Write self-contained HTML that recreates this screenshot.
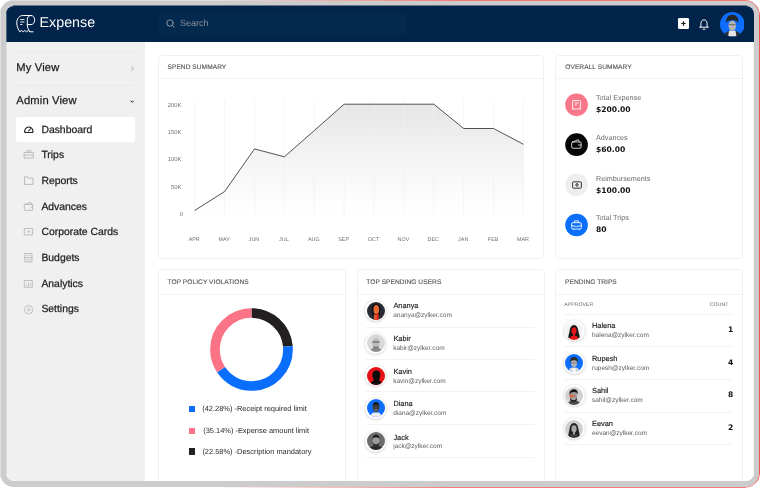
<!DOCTYPE html>
<html lang="en">
<head>
<meta charset="utf-8">
<title>Expense Dashboard</title>
<style>
*{box-sizing:border-box;margin:0;padding:0}
html,body{width:760px;height:489px;background:#fff;overflow:hidden}
body{position:relative;font-family:"Liberation Sans",sans-serif;color:#222;text-rendering:geometricPrecision}
.t{position:absolute;white-space:nowrap;line-height:1}
svg{display:block}
#redline{z-index:5;position:absolute;left:1px;top:0;width:759px;height:488px;border:1px solid #f0524f;border-top-color:#f47b78;border-bottom-color:#f47b78;border-radius:15px;
 -webkit-mask-image:linear-gradient(to right,transparent 28%,#000 60%);mask-image:linear-gradient(to right,transparent 28%,#000 60%)}
#frame{position:absolute;left:0;top:0;width:759px;height:487px;border-radius:14px;background:#cccccc;overflow:hidden}
#win{position:absolute;left:6px;top:6px;width:748px;height:475px;border-radius:8px;background:#fff;overflow:hidden}
#pg{position:absolute;left:-6px;top:-6px;width:760px;height:489px}
#hdr{position:absolute;left:0;top:0;width:760px;height:42px;background:#02234a}
#side{position:absolute;left:0;top:42px;width:145px;height:447px;background:#f0f0f0}
.card{position:absolute;background:#fff;border:1px solid #f1f1f1;border-radius:4px}
.card .hd{position:absolute;left:0;top:0;right:0;height:23px;border-bottom:1px solid #f2f2f2}
.brand{font-size:14.3px;color:#fff}
.srch{font-size:9px;color:#8a8f9b}
.ttl{font-size:6.6px;color:#555;letter-spacing:0.05px;-webkit-text-stroke:0.12px #555}
.nav{font-size:10.4px;color:#1f1f1f;-webkit-text-stroke:0.25px #1f1f1f}
.sec{font-size:11.2px;color:#1f1f1f;-webkit-text-stroke:0.25px #1f1f1f;letter-spacing:0.15px}
.lbl{font-size:7.2px;color:#6b6b6b}
.val{font-family:"DejaVu Sans","Liberation Sans",sans-serif;font-size:7.6px;color:#111;font-weight:bold}
.nm{font-size:7.4px;color:#1d1d1d;-webkit-text-stroke:0.15px #1d1d1d}
.em{font-size:6.5px;color:#5c5c5c}
.lg{font-size:7.45px;color:#2b2b2b}
.th{font-size:5.2px;color:#6a6a6a}
.cnt{font-family:"DejaVu Sans","Liberation Sans",sans-serif;font-size:7.6px;color:#111;font-weight:bold}
.dv{position:absolute;height:1px;background:#f3f3f3}
.av{position:absolute;width:21px;height:21px;border-radius:50%;background:#fff;box-shadow:0 0.5px 3px rgba(0,0,0,.22)}
.av svg{position:absolute;left:1.5px;top:1.5px;width:18px;height:18px;border-radius:50%;overflow:hidden}
.ic{position:absolute;width:23px;height:23px;border-radius:50%}
.ab{position:absolute}
</style>
</head>
<body>
<div id="redline"></div>
<div id="frame">
<div class="ab" style="left:0;top:0;width:759px;height:1px;background:#e1e1e1"></div>
<div class="ab" style="left:0;top:0;width:1px;height:487px;background:#e0e0e0"></div>
<div class="ab" style="left:13px;top:5px;width:734px;height:1px;background:#67778b"></div>
<div id="win">
<div id="pg">
<!-- HEADER -->
<div id="hdr"></div>
<svg class="t" style="left:10px;top:10px" width="34" height="30" viewBox="10 10 34 30" fill="none" stroke="#fff" stroke-width="1" stroke-linecap="round" stroke-linejoin="round">
  <path d="M31 15.500H23.200C19.200 15.500 16.800 18.600 16.800 23c0 3.800 1.600 6.400 3 8.800l1.700-1.300 1.700 1.300 1.700-1.300 1.700 1.300 1.700-1.300 1.700 1.300H33.200"/>
  <path d="M27.300 24.600H31c2.100 0 3.700-2 3.700-4.500 0-2.600-1.600-4.600-3.700-4.600s-3.700 1.800-3.700 4.200V25c0 2.800 1.200 4.900 2.700 6.800"/>
  <path d="M20.200 19.600h4.300M20.200 22h4.300M20.200 24.500h2.200" stroke-width="0.900" stroke-linecap="butt"/>
</svg>
<div class="t brand" style="left:39.5px;top:16px">Expense</div>
<div class="ab" style="left:159px;top:13px;width:247px;height:22px;border-radius:3px;background:#04294f"></div>
<svg class="t" style="left:165.500px;top:19.300px" width="9" height="9" viewBox="0 0 9 9" fill="none" stroke="#9a9ea8" stroke-width="0.900" stroke-linecap="round"><circle cx="4" cy="4" r="3.200"/><path d="M6.400 6.500L8.200 8.300"/></svg>
<div class="t srch" style="left:180px;top:19px">Search</div>
<div class="ab" style="left:677.800px;top:18.200px;width:11px;height:11px;border-radius:1.200px;background:#fff"></div>
<svg class="t" style="left:680.800px;top:21.200px" width="5" height="5" viewBox="0 0 5 5" stroke="#111" stroke-width="1.200"><path d="M2.500 0.300v4.400M0.300 2.500h4.400"/></svg>
<svg class="t" style="left:699px;top:19px" width="10" height="11" viewBox="0 0 10 11" fill="none" stroke="#fff" stroke-width="0.950" stroke-linecap="round" stroke-linejoin="round"><path d="M0.600 8.200h8.800M1.900 8.200V4.300c0-2 1.400-3.500 3.100-3.500s3.100 1.500 3.100 3.500v3.900M4 10.200h2"/></svg>
<svg class="t" style="left:719.700px;top:12px" width="24.600" height="24.600" viewBox="0 0 24 24">
  <defs><clipPath id="cpA"><circle cx="12" cy="12" r="12"/></clipPath></defs>
  <g clip-path="url(#cpA)">
    <rect width="24" height="24" fill="#0d6efd"/>
    <path d="M3.500 24c0.500-3.500 3-5 5.500-5.500h6c2.500 0.500 5 2 5.500 5.500z" fill="#2e2e2e"/>
    <path d="M8 24l0.800-5.800h6.400L16 24z" fill="#e4e4e4"/>
    <ellipse cx="12" cy="13.200" rx="3.700" ry="5" fill="#b4b4b4"/>
    <path d="M6.300 10.800C5.300 6 8 2.600 12 2.600s6.700 3.400 5.700 8.200c-0.600-1.500-1.200-2-2.200-2.300-2.500-0.500-4.500-0.500-7 0-1 0.300-1.600 0.800-2.200 2.300z" fill="#262626"/>
    <path d="M8.600 12.400h6.800" stroke="#4a4a4a" stroke-width="0.700"/>
  </g>
</svg>
<!-- SIDEBAR -->
<div id="side"></div>
<div class="ab" style="left:6px;top:42px;width:1px;height:447px;background:#dfdfdf"></div>
<div class="ab" style="left:6px;top:13px;width:1px;height:29px;background:#53677e"></div>
<div class="ab" style="left:753px;top:42px;width:1px;height:447px;background:#f4f4f4"></div>
<div class="dv" style="left:16px;top:52px;width:119px;background:#e9e9e9"></div>
<div class="t sec" style="left:16.3px;top:63px">My View</div>
<svg class="t" style="left:130.700px;top:65.900px" width="3" height="5.200" viewBox="0 0 3 5.200" fill="none" stroke="#8a8a8a" stroke-width="0.700"><path d="M0.400 0.400l1.800 2.200-1.800 2.200"/></svg>
<div class="dv" style="left:16px;top:85px;width:119px;background:#e9e9e9"></div>
<div class="t sec" style="left:16.3px;top:96px">Admin View</div>
<svg class="t" style="left:129.800px;top:100.300px" width="4.600" height="3.200" viewBox="0 0 4.600 3.200" fill="none" stroke="#222" stroke-width="1"><path d="M0.600 0.600l1.700 1.700 1.700-1.700"/></svg>
<div class="ab" style="left:16px;top:117px;width:119px;height:24.500px;border-radius:2px;background:#fff"></div>
<div class="t nav" style="left:41.4px;top:126px">Dashboard</div>
<div class="t nav" style="left:41.4px;top:151px">Trips</div>
<div class="t nav" style="left:41.4px;top:177px">Reports</div>
<div class="t nav" style="left:41.4px;top:203px">Advances</div>
<div class="t nav" style="left:41.4px;top:228px">Corporate Cards</div>
<div class="t nav" style="left:41.4px;top:254px">Budgets</div>
<div class="t nav" style="left:41.4px;top:280px">Analytics</div>
<div class="t nav" style="left:41.4px;top:305px">Settings</div>
<svg class="t" style="left:6px;top:6px" width="140" height="330" viewBox="6 6 140 330" fill="none" stroke="#b7b7b7" stroke-width="0.900" stroke-linejoin="round" stroke-linecap="round">
  <g stroke="#1f1f1f" stroke-width="1.100"><path d="M24.950 132.500A4.100 4.100 0 1 1 32.650 132.500z"/><path d="M28.600 131l1.900-2.100"/></g>
  <path d="M24.500 152.400h8.800v5.700h-8.800zM27.200 152.400v-1.800h3.400v1.800M24.500 155.100h8.800"/>
  <path d="M24.500 184v-7.200h3.200l0.700 1.400h4.600V184z"/>
  <path d="M24.700 204.400h7.900v5.900h-7.900zM24.900 204.400l6-2 0.600 2M30.800 207.200h1.800"/>
  <path d="M24.700 228.500h7.900v6.400h-7.900z"/><path d="M27.700 231.700h2M28.700 230.700v2" stroke-width="0.700"/>
  <path d="M25.200 253.500h6.800v8.400h-6.800zM25.200 257.700h6.800"/><path d="M26.800 255.600h3.600M26.800 259.800h3.600" stroke-width="0.700"/>
  <path d="M24.700 280.500h7.600v6.700h-7.600z"/><path d="M26.700 285.800v-1.800M28.500 285.800v-3.300M30.300 285.800v-2.400" stroke-width="0.700"/>
  <path d="M28.600 305.300l1.200 0.900 1.500-0.100 0.400 1.400 1.200 0.900-0.500 1.300 0.500 1.300-1.200 0.900-0.400 1.400-1.500-0.100-1.200 0.900-1.200-0.900-1.500 0.100-0.400-1.400-1.200-0.900 0.500-1.300-0.500-1.300 1.200-0.900 0.400-1.400 1.500 0.100z" stroke-width="0.800"/><circle cx="28.600" cy="309.600" r="1.400" stroke-width="0.800"/>
</svg>
<!-- SPEND SUMMARY -->
<div class="card" style="left:158px;top:55px;width:386px;height:204px"><div class="hd"></div></div>
<div class="t ttl" style="left:167.5px;top:65px">SPEND SUMMARY</div>
<svg class="t" style="left:158px;top:55px" width="386" height="204" viewBox="158 55 386 204">
  <defs><linearGradient id="gf" x1="0" y1="104" x2="0" y2="216" gradientUnits="userSpaceOnUse"><stop offset="0" stop-color="#e6e6e6"/><stop offset="0.500" stop-color="#f4f4f4"/><stop offset="0.900" stop-color="#fefefe"/><stop offset="1" stop-color="#ffffff"/></linearGradient></defs>
  <path d="M194.7 210.5 224.6 191.5 254.5 148.9 284.4 156.8 314.3 130.5 344.1 104.2 374.0 104.2 403.9 104.2 433.8 104.2 463.7 128.5 493.6 128.5 523.5 144.3V216H194.7z" fill="url(#gf)"/>
  <path d="M194.7 99.800V217.600M224.6 99.800V217.600M254.5 99.800V217.600M284.4 99.800V217.600M314.3 99.800V217.600M344.1 99.800V217.600M374.0 99.800V217.600M403.9 99.800V217.600M433.8 99.800V217.600M463.7 99.800V217.600M493.6 99.800V217.600M523.5 99.800V217.600" stroke="#f0f0f0" stroke-width="0.700" fill="none"/>
  <polyline points="194.7 210.5 224.6 191.5 254.5 148.9 284.4 156.8 314.3 130.5 344.1 104.2 374.0 104.2 403.9 104.2 433.8 104.2 463.7 128.5 493.6 128.5 523.5 144.3" fill="none" stroke="#343434" stroke-width="0.850" stroke-linejoin="round"/>
  <g font-family="Liberation Sans, sans-serif" font-size="5.900" fill="#6f6f6f" text-anchor="end">
    <text x="181.500" y="106.800">200K</text><text x="181.500" y="134">150K</text><text x="181.500" y="161.100">100K</text><text x="181.500" y="188.600">50K</text><text x="183" y="215.700">0</text>
  </g>
  <g font-family="Liberation Sans, sans-serif" font-size="5.400" fill="#6f6f6f" text-anchor="middle">
    <text x="194.2" y="241.200">APR</text><text x="224.1" y="241.200">MAY</text><text x="254.0" y="241.200">JUN</text><text x="283.9" y="241.200">JUL</text><text x="313.8" y="241.200">AUG</text><text x="343.6" y="241.200">SEP</text><text x="373.5" y="241.200">OCT</text><text x="403.4" y="241.200">NOV</text><text x="433.3" y="241.200">DEC</text><text x="463.2" y="241.200">JAN</text><text x="493.1" y="241.200">FEB</text><text x="523.0" y="241.200">MAR</text>
  </g>
</svg>
<!-- OVERALL SUMMARY -->
<div class="card" style="left:555px;top:55px;width:188px;height:204px"><div class="hd"></div></div>
<div class="t ttl" style="left:565.3px;top:65px">OVERALL SUMMARY</div>
<svg class="t" style="left:560px;top:90px" width="32" height="30" viewBox="560 90 32 30"><circle cx="576.550" cy="104.8" r="11.350" fill="#f9778a"/></svg>
<svg class="t" style="left:572.1px;top:100.2px" width="9" height="10" viewBox="0 0 9 10" fill="none" stroke="#fff" stroke-width="0.900" stroke-linejoin="round" stroke-linecap="round"><path d="M1.300 0.600h6.400c0.400 0 0.700 0.300 0.700 0.700v8.100l-1.300-0.800-1.300 0.800-1.300-0.800-1.300 0.800-1.300-0.800-1.300 0.800V1.300c0-0.400 0.300-0.700 0.700-0.700z"/><path d="M3.400 3h2.400M3.400 4.800h1"/></svg>
<div class="t lbl" style="left:596px;top:94px">Total Expense</div>
<div class="t val" style="left:596px;top:106px">$200.00</div>
<svg class="t" style="left:560px;top:130px" width="32" height="30" viewBox="560 130 32 30"><circle cx="576.550" cy="144.7" r="11.350" fill="#050505"/></svg>
<svg class="t" style="left:571.2px;top:139.3px" width="11" height="9.900" viewBox="0 0 10 9" fill="none" stroke="#e8e8e8" stroke-width="0.800" stroke-linejoin="round" stroke-linecap="round"><rect x="0.600" y="2.700" width="8.600" height="5.700" rx="1"/><path d="M1.600 2.700l5-2.100 0.900 2.100M6.800 5.500h2.400"/></svg>
<div class="t lbl" style="left:596px;top:134px">Advances</div>
<div class="t val" style="left:596px;top:146px">$60.00</div>
<svg class="t" style="left:560px;top:170px" width="32" height="30" viewBox="560 170 32 30"><circle cx="576.550" cy="184.8" r="11.350" fill="#eeeeee"/></svg>
<svg class="t" style="left:571.6px;top:181.2px" width="10" height="8" viewBox="0 0 10 8" fill="none" stroke="#222" stroke-width="0.900" stroke-linejoin="round"><rect x="0.600" y="0.800" width="8.800" height="6.400" rx="1"/><circle cx="5" cy="4" r="1.200"/><path d="M5 2.800V2.200"/></svg>
<div class="t lbl" style="left:596px;top:175px">Reimbursements</div>
<div class="t val" style="left:596px;top:187px">$100.00</div>
<svg class="t" style="left:560px;top:211px" width="32" height="30" viewBox="560 211 32 30"><circle cx="576.550" cy="225.0" r="11.350" fill="#0b6ffb"/></svg>
<svg class="t" style="left:571.2px;top:219.9px" width="11" height="10.500" viewBox="0 0 10 9.500" fill="none" stroke="#fff" stroke-width="0.800" stroke-linejoin="round"><rect x="0.600" y="2.400" width="8.800" height="5.800" rx="1.200"/><path d="M3.200 2.400V0.800h3.600v1.600M0.600 4.800c1.500 1.300 7.300 1.300 8.800 0M2.500 8.200v0.800M7.500 8.200v0.800"/></svg>
<div class="t lbl" style="left:596px;top:214px">Total Trips</div>
<div class="t val" style="left:596px;top:226px">80</div>
<!-- TOP POLICY VIOLATIONS -->
<div class="card" style="left:158px;top:269px;width:188px;height:230px"><div class="hd" style="height:25px"></div></div>
<div class="t ttl" style="left:167.5px;top:280px">TOP POLICY VIOLATIONS</div>
<svg class="t" style="left:204.900px;top:302.550px" width="93" height="93" viewBox="-46.500 -46.500 93 93">
  <g fill="none" stroke-width="9.700" transform="rotate(-90)">
    <circle r="36.500" stroke="#231f20" pathLength="100" stroke-dasharray="23.600 76.400" stroke-dashoffset="0"/>
    <circle r="36.500" stroke="#0a6efd" pathLength="100" stroke-dasharray="42.100 57.900" stroke-dashoffset="-23.600"/>
    <circle r="36.500" stroke="#fb7386" pathLength="100" stroke-dasharray="34.300 65.700" stroke-dashoffset="-65.700"/>
  </g>
</svg>
<div class="ab" style="left:189px;top:405.7px;width:6.300px;height:6.300px;background:#0a6efd"></div>
<div class="t lg" style="left:202.2px;top:405px">(42.28%) -Receipt required limit</div>
<div class="ab" style="left:189px;top:427.5px;width:6.300px;height:6.300px;background:#fb7386"></div>
<div class="t lg" style="left:203.2px;top:427px">(35.14%) -Expense amount limit</div>
<div class="ab" style="left:189px;top:448.3px;width:6.300px;height:6.300px;background:#231f20"></div>
<div class="t lg" style="left:202.4px;top:448px">(22.58%) -Description mandatory</div>
<!-- TOP SPENDING USERS -->
<div class="card" style="left:357px;top:269px;width:188px;height:230px"><div class="hd" style="height:25px"></div></div>
<div class="t ttl" style="left:366.3px;top:280px">TOP SPENDING USERS</div>
<div class="av" style="left:365.3px;top:300.0px"><svg viewBox="0 0 18 18"><rect width="18" height="18" fill="#2a2c35"/><path d="M4.500 9c-0.500-4.500 1.500-7.500 4.700-7.500 3.300 0 5 3 4.300 7.500l-1 5h-7z" fill="#14151a"/><path d="M7 18v-5.500h4.600V18z" fill="#e5522a"/><ellipse cx="9.300" cy="7.600" rx="2.800" ry="4.600" fill="#ec6a32"/><path d="M9.800 11.500l1.800 1v4l-1.800 1.500z" fill="#e3241c"/></svg></div>
<div class="t nm" style="left:393.4px;top:302px">Ananya</div>
<div class="t em" style="left:393.2px;top:313px">ananya@zylker.com</div>
<div class="dv" style="left:366px;top:327px;width:168.500px"></div>
<div class="av" style="left:365.3px;top:332.8px"><svg viewBox="0 0 18 18"><rect width="18" height="18" fill="#d9d9d9"/><path d="M3 18c0.300-2.500 2-4 4-4.300h4c2 0.300 3.700 1.800 4 4.300z" fill="#8c8c8c"/><ellipse cx="9" cy="8.300" rx="3.600" ry="4.600" fill="#bcbcbc"/><path d="M5.500 8h7" stroke="#444" stroke-width="0.900"/><path d="M6.200 11.500c1 1.800 4.600 1.800 5.600 0v2c-1.500 1.200-4.100 1.200-5.600 0z" fill="#777"/></svg></div>
<div class="t nm" style="left:393.4px;top:335px">Kabir</div>
<div class="t em" style="left:393.2px;top:346px">kabir@zylker.com</div>
<div class="dv" style="left:366px;top:359px;width:168.500px"></div>
<div class="av" style="left:365.3px;top:365.3px"><svg viewBox="0 0 18 18"><rect width="18" height="18" fill="#e8111a"/><path d="M3.500 18c0.200-2.500 1.500-4 3.500-4.500l-0.500-1.500c-1.500-2-1.500-6 0-7.500 1.500-1.500 4.500-1.500 6 0 1.200 1.500 1 5 0 7l-0.500 2c2 0.500 3 2 3.200 4.500z" fill="#0b0b0b"/></svg></div>
<div class="t nm" style="left:393.4px;top:368px">Kavin</div>
<div class="t em" style="left:393.2px;top:379px">kavin@zylker.com</div>
<div class="dv" style="left:366px;top:391px;width:168.500px"></div>
<div class="av" style="left:365.3px;top:397.9px"><svg viewBox="0 0 18 18"><rect width="18" height="18" fill="#0d6efd"/><path d="M3 18c0.300-2.500 2-4 4-4.500h4c2 0.500 3.700 2 4 4.500z" fill="#ececec"/><ellipse cx="9" cy="8.600" rx="3.300" ry="4.300" fill="#3d3d3d"/><path d="M5.600 8c-0.300-3 1.300-5 3.400-5s3.700 2 3.400 5c-0.500-1.800-1.400-2.600-3.400-2.600s-2.900 0.800-3.400 2.600z" fill="#151515"/><path d="M7.600 10.800c0.800 0.600 2 0.600 2.800 0" stroke="#ddd" stroke-width="0.600" fill="none"/></svg></div>
<div class="t nm" style="left:393.4px;top:400px">Diana</div>
<div class="t em" style="left:393.2px;top:411px">diana@zylker.com</div>
<div class="dv" style="left:366px;top:424px;width:168.500px"></div>
<div class="av" style="left:365.3px;top:430.5px"><svg viewBox="0 0 18 18"><rect width="18" height="18" fill="#6c6c6c"/><path d="M2.500 18c0.300-2.500 2-4 4.500-4.500h4c2.500 0.500 4.200 2 4.500 4.500z" fill="#2c2c2c"/><ellipse cx="9" cy="8.300" rx="3.500" ry="4.500" fill="#9a9a9a"/><path d="M5.500 7.500c-0.300-3 1.300-4.800 3.500-4.800s3.800 1.800 3.500 4.800c-0.500-1.500-1.500-2.200-3.500-2.200s-3 0.700-3.500 2.200z" fill="#1c1c1c"/><path d="M5.700 9.500c0.500 3.800 6.100 3.800 6.600 0l-0.300 3c-1.500 2-4.500 2-6 0z" fill="#2a2a2a"/></svg></div>
<div class="t nm" style="left:393.4px;top:434px">Jack</div>
<div class="t em" style="left:393.2px;top:444px">jack@zylker.com</div>
<div class="dv" style="left:366px;top:457px;width:168.500px"></div>
<!-- PENDING TRIPS -->
<div class="card" style="left:555px;top:269px;width:188px;height:230px"><div class="hd" style="height:25px"></div></div>
<div class="t ttl" style="left:565px;top:280px">PENDING TRIPS</div>
<div class="t th" style="left:564.3px;top:303px">APPROVER</div>
<div class="t th" style="right:31.7px;top:303px">COUNT</div>
<div class="dv" style="left:564px;top:314px;width:169px"></div>
<div class="av" style="left:563.9px;top:320.3px"><svg viewBox="0 0 18 18"><rect width="18" height="18" fill="#f2f2f2"/><path d="M3.500 16c-0.500-2 0.500-4 1-6 0.300-4 1.800-7 4.500-7s4.200 3 4.500 7c0.500 2 1.500 4 1 6z" fill="#161616"/><path d="M4 18c0.300-2.500 1.800-4 3.800-4.300h2.400c2 0.300 3.500 1.800 3.800 4.300z" fill="#e8161a"/><ellipse cx="9" cy="8.700" rx="2.500" ry="3.500" fill="#e8161a"/><path d="M8 11.500h2v3h-2z" fill="#e8161a"/></svg></div>
<div class="t nm" style="left:592px;top:322px">Halena</div>
<div class="t em" style="left:592px;top:333px">halena@zylker.com</div>
<div class="t cnt" style="right:26.7px;top:326px">1</div>
<div class="dv" style="left:564px;top:346px;width:169px"></div>
<div class="av" style="left:563.9px;top:352.6px"><svg viewBox="0 0 18 18"><rect width="18" height="18" fill="#0d6efd"/><path d="M3 18c0.300-2.500 2-4 4-4.500h4c2 0.500 3.700 2 4 4.500z" fill="#d6d6d6"/><path d="M7 18l0.500-4h3l0.500 4z" fill="#f5f5f5"/><ellipse cx="9" cy="9" rx="3" ry="3.900" fill="#b5b5b5"/><path d="M5.300 8.500c-0.800-3.500 1.200-5.500 3.700-5.500s4.500 2 3.700 5.500c-0.500-1.500-1.500-2.200-3.700-2.200s-3.200 0.700-3.700 2.200z" fill="#2a2a2a"/><path d="M6 9h6" stroke="#555" stroke-width="0.600"/></svg></div>
<div class="t nm" style="left:592px;top:355px">Rupesh</div>
<div class="t em" style="left:592px;top:366px">rupesh@zylker.com</div>
<div class="t cnt" style="right:26.7px;top:359px">4</div>
<div class="dv" style="left:564px;top:379px;width:169px"></div>
<div class="av" style="left:563.9px;top:385.2px"><svg viewBox="0 0 18 18"><rect width="18" height="18" fill="#d2d2d2"/><path d="M2.500 18c0.300-2.500 2-4 4.500-4.500h4c2.500 0.500 4.200 2 4.500 4.500z" fill="#4a4a4a"/><ellipse cx="8.500" cy="8.500" rx="3.500" ry="4.500" fill="#9c9c9c"/><path d="M4.500 8c-0.500-3.500 1.500-5.800 4.300-5.800 2.700 0 4.500 2 4 5.300-0.800-1.800-2-2.500-4-2.500-2.200 0-3.500 1-4.300 3z" fill="#151515"/><path d="M5 9.800c0.500 4.500 6.500 4.500 7 0l-0.200 3.400c-1.600 2.200-5 2.200-6.600 0z" fill="#1d1d1d"/><path d="M4.800 8.200h3.200v1.700h-3.200zM9 8.700h1.600" stroke="#f0541e" stroke-width="0.900" fill="none"/></svg></div>
<div class="t nm" style="left:592px;top:387px">Sahil</div>
<div class="t em" style="left:592px;top:398px">sahil@zylker.com</div>
<div class="t cnt" style="right:26.7px;top:391px">8</div>
<div class="dv" style="left:564px;top:412px;width:169px"></div>
<div class="av" style="left:563.9px;top:418.2px"><svg viewBox="0 0 18 18"><rect width="18" height="18" fill="#cfcfcf"/><path d="M3.500 17c-0.500-2 0.300-4 0.800-6.500 0.300-4.500 2-7.500 4.700-7.500s4.400 3 4.700 7.500c0.500 2.500 1.300 4.500 0.800 6.500z" fill="#222"/><path d="M3.500 18c0.300-2.500 1.800-4 3.800-4.300h3.400c2 0.300 3.500 1.800 3.800 4.300z" fill="#3a3a3a"/><ellipse cx="9" cy="8.800" rx="2.600" ry="3.600" fill="#a9a9a9"/><path d="M8 11.800h2v2.600h-2z" fill="#a0a0a0"/></svg></div>
<div class="t nm" style="left:592px;top:420px">Eevan</div>
<div class="t em" style="left:592px;top:431px">eevan@zylker.com</div>
<div class="t cnt" style="right:26.7px;top:424px">2</div>
<div class="dv" style="left:564px;top:444px;width:169px"></div>
</div>
</div>
</div>
</body>
</html>
